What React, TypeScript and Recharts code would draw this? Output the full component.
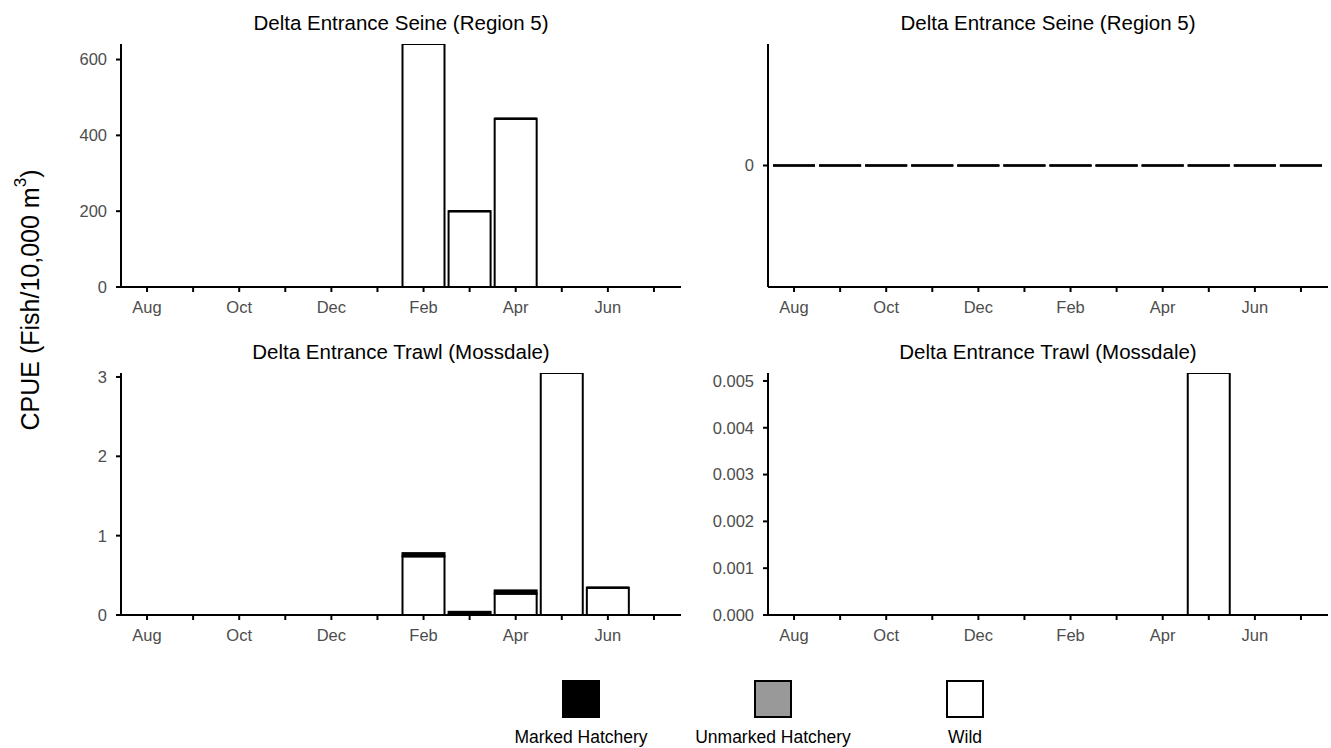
import React from 'react';
import { BarChart, Bar, XAxis, YAxis } from 'recharts';

// Months of the water year, August through July
const MONTHS = ['Aug', 'Sep', 'Oct', 'Nov', 'Dec', 'Jan', 'Feb', 'Mar', 'Apr', 'May', 'Jun', 'Jul'];
const LABELED_MONTHS = ['Aug', 'Oct', 'Dec', 'Feb', 'Apr', 'Jun'];

// Delta Entrance Seine (Region 5) — left column
const SEINE_A_MARKED = [0, 0, 0, 0, 0, 0, 0, 0, 0, 0, 0, 0];
const SEINE_A_UNMARKED = [0, 0, 0, 0, 0, 0, 0, 0, 0, 0, 0, 0];
const SEINE_A_WILD = [0, 0, 0, 0, 0, 0, 641, 200, 444, 0, 0, 0];

// Delta Entrance Seine (Region 5) — right column
const SEINE_B_MARKED = [0, 0, 0, 0, 0, 0, 0, 0, 0, 0, 0, 0];
const SEINE_B_UNMARKED = [0, 0, 0, 0, 0, 0, 0, 0, 0, 0, 0, 0];
const SEINE_B_WILD = [0, 0, 0, 0, 0, 0, 0, 0, 0, 0, 0, 0];

// Delta Entrance Trawl (Mossdale) — left column
const TRAWL_A_MARKED = [0, 0, 0, 0, 0, 0, 0.04, 0.04, 0.04, 0, 0, 0];
const TRAWL_A_UNMARKED = [0, 0, 0, 0, 0, 0, 0, 0, 0, 0, 0, 0];
const TRAWL_A_WILD = [0, 0, 0, 0, 0, 0, 0.74, 0, 0.27, 3.05, 0.345, 0];

// Delta Entrance Trawl (Mossdale) — right column
const TRAWL_B_MARKED = [0, 0, 0, 0, 0, 0, 0, 0, 0, 0, 0, 0];
const TRAWL_B_UNMARKED = [0, 0, 0, 0, 0, 0, 0, 0, 0, 0, 0, 0];
const TRAWL_B_WILD = [0, 0, 0, 0, 0, 0, 0, 0, 0, 0.00517, 0, 0];

// Y tick values per panel
const SEINE_A_TICKS = [0, 200, 400, 600];
const SEINE_B_TICKS = [0];
const TRAWL_A_TICKS = [0, 1, 2, 3];
const TRAWL_B_TICKS = [0, 0.001, 0.002, 0.003, 0.004, 0.005];

// Stack order: first entry sits at the bottom
const SERIES = [
  { key: 'wild', name: 'Wild', fill: '#FFFFFF' },
  { key: 'unmarked', name: 'Unmarked Hatchery', fill: '#999999' },
  { key: 'marked', name: 'Marked Hatchery', fill: '#000000' },
];
const LEGEND_ORDER = ['marked', 'unmarked', 'wild'];

const FONT = '"Liberation Sans", Arial, Helvetica, sans-serif';
const TICK_COLOR = '#4D4D4D';

function buildRows(marked: number[], unmarked: number[], wild: number[]) {
  return MONTHS.map((month, i) => ({
    month,
    marked: marked[i],
    unmarked: unmarked[i],
    wild: wild[i],
  }));
}

function stackMax(rows: { marked: number; unmarked: number; wild: number }[]) {
  return Math.max(...rows.map((r) => r.marked + r.unmarked + r.wild));
}

// Outlined bar; a zero-height segment is drawn as its flat outline.
const OutlinedBar = (props: any) => {
  const { x, y, width, height, fill } = props;
  if (x == null || y == null || width == null) return null;
  if (!height || Math.abs(height) < 0.01) {
    return <line x1={x} x2={x + width} y1={y} y2={y} stroke="#000" strokeWidth={2} />;
  }
  const top = height < 0 ? y + height : y;
  return (
    <rect x={x} y={top} width={width} height={Math.abs(height)} fill={fill} stroke="#000" strokeWidth={2} />
  );
};

const PLOT_LEFT = 121;
const PLOT_WIDTH = 560;
const PLOT_TOP = 44;
const X_AXIS_H = 40;

type PanelProps = {
  left: number;
  top: number;
  plotHeight: number;
  title: string;
  rows: any[];
  domain: [number, number];
  ticks: number[];
  fmt: (v: number) => string;
};

function Panel({ left, top, plotHeight, title, rows, domain, ticks, fmt }: PanelProps) {
  const W = PLOT_LEFT + PLOT_WIDTH + 2;
  const H = PLOT_TOP + plotHeight + X_AXIS_H;
  return (
    <div style={{ position: 'absolute', left, top, width: W, height: H }}>
      <div
        style={{
          position: 'absolute',
          left: PLOT_LEFT,
          width: PLOT_WIDTH,
          top: 11,
          height: 24,
          lineHeight: '24px',
          textAlign: 'center',
          fontSize: 20.5,
          color: '#000',
        }}
      >
        {title}
      </div>
      <BarChart
        width={W}
        height={H}
        data={rows}
        margin={{ top: PLOT_TOP, right: 2, bottom: 0, left: 0 }}
        barCategoryGap={2}
      >
        <XAxis
          dataKey="month"
          type="category"
          interval={0}
          height={X_AXIS_H}
          padding={{ left: 3, right: 4 }}
          tickSize={5}
          tickMargin={9}
          tickFormatter={(v: string) => (LABELED_MONTHS.includes(v) ? v : '')}
          axisLine={{ stroke: '#000', strokeWidth: 2 }}
          tickLine={{ stroke: '#000', strokeWidth: 2 }}
          tick={{ fill: TICK_COLOR, fontSize: 16.5 }}
        />
        <YAxis
          type="number"
          width={PLOT_LEFT}
          domain={domain}
          ticks={ticks}
          allowDataOverflow
          interval={0}
          tickSize={5}
          tickMargin={9}
          tickFormatter={fmt}
          axisLine={{ stroke: '#000', strokeWidth: 2 }}
          tickLine={{ stroke: '#000', strokeWidth: 2 }}
          tick={{ fill: TICK_COLOR, fontSize: 16.5 }}
        />
        {SERIES.map((s) => (
          <Bar
            key={s.key}
            dataKey={s.key}
            name={s.name}
            stackId="catch"
            fill={s.fill}
            stroke="#000"
            strokeWidth={2}
            shape={OutlinedBar}
            isAnimationActive={false}
          />
        ))}
      </BarChart>
    </div>
  );
}

const seineA = buildRows(SEINE_A_MARKED, SEINE_A_UNMARKED, SEINE_A_WILD);
const seineB = buildRows(SEINE_B_MARKED, SEINE_B_UNMARKED, SEINE_B_WILD);
const trawlA = buildRows(TRAWL_A_MARKED, TRAWL_A_UNMARKED, TRAWL_A_WILD);
const trawlB = buildRows(TRAWL_B_MARKED, TRAWL_B_UNMARKED, TRAWL_B_WILD);

const LEGEND_X = [581, 773, 965];

export default function App() {
  return (
    <div
      style={{
        position: 'absolute',
        left: 0,
        top: 0,
        width: 1331,
        height: 748,
        background: '#fff',
        fontFamily: FONT,
        overflow: 'hidden',
      }}
    >
      <Panel
        left={0}
        top={0}
        plotHeight={243}
        title="Delta Entrance Seine (Region 5)"
        rows={seineA}
        domain={[0, stackMax(seineA)]}
        ticks={SEINE_A_TICKS}
        fmt={(v) => String(v)}
      />
      <Panel
        left={647}
        top={0}
        plotHeight={243}
        title="Delta Entrance Seine (Region 5)"
        rows={seineB}
        domain={[-0.05, 0.05]}
        ticks={SEINE_B_TICKS}
        fmt={(v) => String(v)}
      />
      <Panel
        left={0}
        top={329}
        plotHeight={242}
        title="Delta Entrance Trawl (Mossdale)"
        rows={trawlA}
        domain={[0, stackMax(trawlA)]}
        ticks={TRAWL_A_TICKS}
        fmt={(v) => String(v)}
      />
      <Panel
        left={647}
        top={329}
        plotHeight={242}
        title="Delta Entrance Trawl (Mossdale)"
        rows={trawlB}
        domain={[0, stackMax(trawlB)]}
        ticks={TRAWL_B_TICKS}
        fmt={(v) => v.toFixed(3)}
      />

      {/* Shared y-axis title */}
      <svg style={{ position: 'absolute', left: 0, top: 0 }} width={60} height={748}>
        <text
          transform="translate(30,300) rotate(-90)"
          textAnchor="middle"
          dominantBaseline="central"
          fontSize={25}
          fill="#000"
          fontFamily={FONT}
        >
          CPUE (Fish/10,000 m
          <tspan dy={-10} fontSize={17}>3</tspan>
          <tspan dy={10}>)</tspan>
        </text>
      </svg>

      {/* Legend */}
      <svg style={{ position: 'absolute', left: 0, top: 670 }} width={1331} height={78}>
        {LEGEND_ORDER.map((k, i) => {
          const s = SERIES.find((d) => d.key === k)!;
          const cx = LEGEND_X[i];
          return (
            <g key={k}>
              <rect x={cx - 18} y={11} width={36} height={36} fill={s.fill} stroke="#000" strokeWidth={2} />
              <text x={cx} y={73} textAnchor="middle" fontSize={17.5} fill="#000" fontFamily={FONT}>
                {s.name}
              </text>
            </g>
          );
        })}
      </svg>
    </div>
  );
}
